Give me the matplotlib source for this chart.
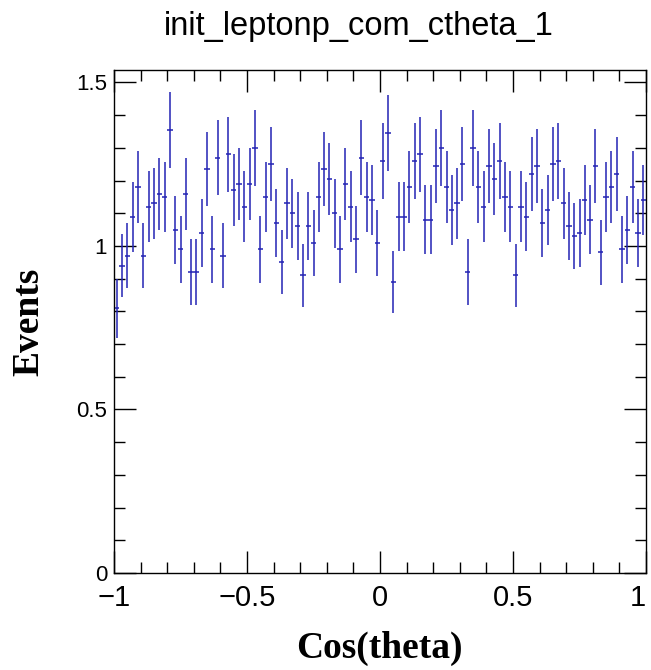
import numpy as np
import matplotlib
matplotlib.use('Agg')
import matplotlib.pyplot as plt
from matplotlib.ticker import MultipleLocator, FuncFormatter

# histogram contents, 100 bins in [-1, 1]
n_bins = 100
x_lo, x_hi = -1.0, 1.0

counts = [0.81, 0.94, 0.97, 1.09, 1.18, 0.97, 1.12, 1.13, 1.16, 1.15,
          1.355, 1.05, 0.99, 1.16, 0.92, 0.92, 1.04, 1.235, 0.99, 1.27,
          0.97, 1.28, 1.17, 1.19, 1.12, 1.19, 1.30, 0.99, 1.15, 1.25,
          1.07, 0.95, 1.13, 1.10, 1.06, 0.91, 1.06, 1.01, 1.15, 1.235,
          1.205, 1.10, 0.99, 1.19, 1.12, 1.02, 1.27, 1.15, 1.14, 1.01,
          1.26, 1.345, 0.89, 1.09, 1.09, 1.18, 1.26, 1.28, 1.08, 1.08,
          1.245, 1.30, 1.18, 1.11, 1.13, 1.25, 0.92, 1.30, 1.18, 1.12,
          1.245, 1.205, 1.26, 1.15, 1.12, 0.91, 1.12, 1.09, 1.22, 1.245,
          1.07, 1.11, 1.25, 1.26, 1.13, 1.06, 1.03, 1.04, 1.14, 1.08,
          1.245, 0.98, 1.15, 1.18, 1.22, 0.99, 1.05, 1.18, 1.04, 1.14]

errors = [0.090, 0.097, 0.100, 0.107, 0.110, 0.100, 0.108, 0.108, 0.110, 0.108,
          0.117, 0.104, 0.103, 0.110, 0.100, 0.100, 0.105, 0.112, 0.103, 0.114,
          0.100, 0.114, 0.110, 0.110, 0.108, 0.110, 0.116, 0.103, 0.108, 0.113,
          0.105, 0.098, 0.108, 0.106, 0.104, 0.097, 0.104, 0.101, 0.108, 0.112,
          0.111, 0.106, 0.103, 0.110, 0.108, 0.102, 0.114, 0.108, 0.108, 0.101,
          0.115, 0.117, 0.094, 0.106, 0.106, 0.110, 0.115, 0.114, 0.105, 0.105,
          0.114, 0.116, 0.110, 0.107, 0.108, 0.113, 0.100, 0.116, 0.110, 0.108,
          0.114, 0.111, 0.115, 0.108, 0.108, 0.097, 0.108, 0.106, 0.112, 0.114,
          0.105, 0.107, 0.113, 0.115, 0.108, 0.104, 0.102, 0.105, 0.108, 0.105,
          0.114, 0.100, 0.108, 0.110, 0.112, 0.103, 0.104, 0.110, 0.105, 0.108]

edges = np.linspace(x_lo, x_hi, n_bins + 1)
centers = 0.5 * (edges[:-1] + edges[1:])
half_width = 0.5 * (edges[1] - edges[0])

W, H = 651, 670
fig = plt.figure(figsize=(W / 100, H / 100), dpi=100)
ax = fig.add_axes([114 / W, 1 - 573 / H, 532 / W, 503 / H])

ax.errorbar(centers, counts, yerr=errors, xerr=half_width, fmt='none',
            ecolor='#2323b4', elinewidth=1.1, capsize=0)

ax.set_xlim(x_lo, x_hi)
ax.set_ylim(0, 1.538)

# ROOT-like ticks on all four sides
ax.xaxis.set_major_locator(MultipleLocator(0.5))
ax.xaxis.set_minor_locator(MultipleLocator(0.1))
ax.yaxis.set_major_locator(MultipleLocator(0.5))
ax.yaxis.set_minor_locator(MultipleLocator(0.1))
ax.tick_params(which='both', direction='in', top=True, right=True, width=1)
ax.tick_params(which='major', length=16)
ax.tick_params(which='minor', length=8)

def fmt(v, pos):
    s = ('%g' % v)
    return s.replace('-', '\u2212')

ax.xaxis.set_major_formatter(FuncFormatter(fmt))
ax.yaxis.set_major_formatter(FuncFormatter(fmt))
ax.tick_params(axis='x', pad=8, labelsize=21)
ax.tick_params(axis='y', pad=5, labelsize=16)
for lab in ax.get_xticklabels() + ax.get_yticklabels():
    lab.set_fontfamily('Liberation Sans')

# keep the last x label inside the canvas, like the ROOT output
fig.canvas.draw()
last = [t for t in ax.xaxis.get_major_ticks() if abs(t.get_loc() - x_hi) < 1e-9]
for t in last:
    t.label1.set_horizontalalignment('right')

for sp in ax.spines.values():
    sp.set_linewidth(1)

fig.text(359 / W, 1 - 35 / H, 'init_leptonp_com_ctheta_1', ha='center', va='baseline',
         family='Liberation Sans', fontsize=23.5)
fig.text(379 / W, 1 - 648 / H, 'Cos(theta)', ha='center', va='center',
         family='Liberation Serif', fontweight='bold', fontsize=27)
fig.text(29 / W, 1 - 322 / H, 'Events', ha='center', va='center', rotation=90,
         family='Liberation Serif', fontweight='bold', fontsize=27)

fig.savefig('out.png', dpi=100)
